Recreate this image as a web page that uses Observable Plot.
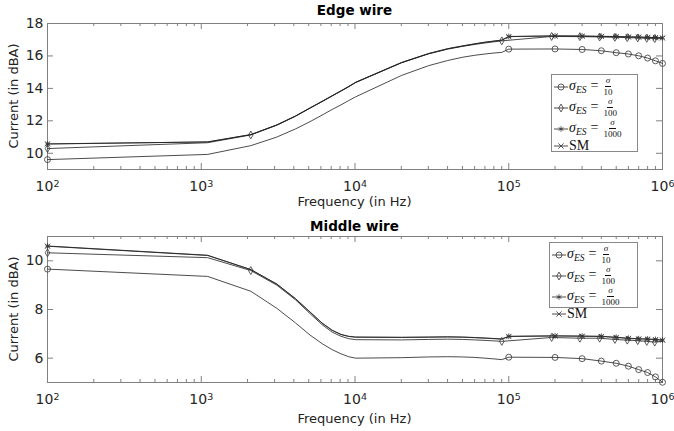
<!DOCTYPE html>
<html><head><meta charset="utf-8">
<script src="https://cdn.jsdelivr.net/npm/d3@7"></script>
<script src="https://cdn.jsdelivr.net/npm/@observablehq/plot@0.6"></script>
<style>
body{margin:0;background:#fff;}
#wrap{position:relative;width:674px;height:431px;overflow:hidden;font-family:"DejaVu Sans",sans-serif;color:#222;}
.panel{position:absolute;left:0;width:674px;}
.title{position:absolute;left:47px;width:615px;text-align:center;font-weight:bold;font-size:13.5px;line-height:16px;color:#000;}
.xlab{position:absolute;left:47px;width:615px;text-align:center;font-size:13px;line-height:15px;color:#222;}
.ylab{position:absolute;width:200px;text-align:center;font-size:13px;line-height:16px;color:#222;transform:rotate(-90deg);transform-origin:50% 50%;}
.legend{position:absolute;border:1px solid #888;background:#fff;font-family:"Liberation Serif","DejaVu Serif",serif;color:#111;box-sizing:border-box;padding:1px 2px;display:flex;flex-direction:column;justify-content:space-around;}
.row{display:flex;align-items:center;white-space:nowrap;font-size:14px;line-height:1;}
.row svg{flex:none;margin-right:1px;}
.lab i{font-style:italic;}
.lab sub{font-size:9.5px;vertical-align:-3px;line-height:1;}
.eq{margin:0 5px 0 4px;}
.frac{display:inline-flex;flex-direction:column;align-items:center;line-height:1;vertical-align:middle;font-size:9px;}
.frac .n{font-style:italic;padding:0 1px 1px;border-bottom:0.8px solid #111;}
.frac .d{padding-top:1px;}
</style>
</head><body>
<div id="wrap"></div>
<script>
// ---------- data ----------
const freqA = [100,1100,2100,3100,4100,5100,6100,7100,8100,9100,10100,20100,30100,40100,50100,60100,70100,80100,90100,100000,200000,300000,400000,500000,600000,700000,800000,900000,1000000];
const freqB = [100,1100,2100,3100,4100,5100,6100,7100,8100,9100,10100,20100,30100,40100,50100,60100,70100,80100,90100,190100,290100,390100,490100,590100,690100,790100,890100,1000000];

// Edge wire (freqA / freqB)
const edge10   = [9.61,9.93,10.47,11.0,11.5,11.95,12.35,12.7,12.98,13.25,13.48,14.8,15.4,15.72,15.92,16.04,16.12,16.18,16.22,16.42,16.43,16.40,16.32,16.2,16.12,16.01,15.87,15.7,15.54];
const edge100  = [10.29,10.65,11.13,11.73,12.28,12.78,13.18,13.53,13.83,14.1,14.36,15.58,16.13,16.42,16.59,16.71,16.8,16.87,16.93,17.2,17.19,17.17,17.15,17.13,17.11,17.09,17.07,17.06];
const edge1000 = [10.57,10.70,11.15,11.75,12.3,12.8,13.2,13.55,13.85,14.12,14.38,15.6,16.15,16.45,16.62,16.75,16.85,16.92,16.98,17.2,17.24,17.23,17.21,17.2,17.18,17.17,17.15,17.14,17.12];
const edgeSM   = [10.58,10.70,11.15,11.74,12.29,12.79,13.19,13.54,13.84,14.11,14.37,15.59,16.14,16.44,16.61,16.74,16.84,16.91,16.97,17.19,17.23,17.22,17.2,17.19,17.17,17.16,17.14,17.13,17.11];

// Middle wire
const mid10   = [9.66,9.36,8.75,8.05,7.45,6.95,6.6,6.35,6.18,6.06,6.0,6.02,6.05,6.06,6.05,6.03,6.0,5.97,5.94,6.04,6.03,5.98,5.88,5.79,5.67,5.53,5.41,5.23,5.01];
const mid100  = [10.33,10.13,9.6,9.0,8.4,7.83,7.38,7.07,6.9,6.8,6.76,6.75,6.77,6.78,6.77,6.75,6.73,6.71,6.69,6.85,6.82,6.82,6.77,6.74,6.72,6.69,6.66,6.70];
const mid1000 = [10.61,10.23,9.64,9.05,8.45,7.9,7.45,7.15,6.98,6.9,6.87,6.86,6.87,6.88,6.87,6.85,6.83,6.81,6.79,6.9,6.92,6.91,6.9,6.86,6.82,6.80,6.79,6.77,6.74];
const midSM   = [10.6,10.22,9.64,9.04,8.44,7.89,7.44,7.14,6.97,6.89,6.86,6.85,6.86,6.87,6.86,6.84,6.82,6.8,6.78,6.89,6.91,6.9,6.89,6.85,6.81,6.79,6.78,6.76,6.74];

// marker positions (frequencies carrying a marker)
const markCircle  = [100,100000,200000,300000,400000,500000,600000,700000,800000,900000,1000000];
const markDiamond = [100,2100,90100,190100,290100,390100,490100,590100,690100,790100,890100];
const markStar    = [100,100000,200000,300000,400000,500000,600000,700000,800000,900000,1000000];
const markSM      = [100,100000,200000,300000,400000,500000,600000,700000,800000,900000,1000000];

const xTicks = [100,1000,10000,100000,1000000];
const edgeYTicks = [10,12,14,16,18];
const midYTicks = [6,8,10];
const titles = ["Edge wire","Middle wire"];
const xLabel = "Frequency (in Hz)";
const yLabel = "Current (in dBA)";
const legendLabels = ["10","100","1000"];

// ---------- drawing ----------
const INK = "#1e1e1e", AX = "#808080";
const minorTicks = [];
for (let k=2;k<6;k++) for (let m=2;m<10;m++) minorTicks.push(m*10**k);

function makePanel(o){
  const W=674, ml=47, mr=12;
  const ph=o.height-o.mt-o.mb, pw=W-ml-mr;
  const series=[
    {key:"s10", f:freqA, v:o.v10, marks:markCircle, symbol:"circle", r:3},
    {key:"s100", f:freqB, v:o.v100, marks:markDiamond, symbol:"diamond", r:2.4},
    {key:"s1000", f:freqA, v:o.v1000, marks:markStar, symbol:"asterisk", r:2.7},
    {key:"sm", f:freqA, v:o.vSM, marks:markSM, symbol:"times", r:2.5}
  ];
  const rows = series.flatMap(s=>s.f.map((f,i)=>({s:s.key,f,v:s.v[i]})));
  const dots = series.map(s=>Plot.dot(rows.filter(d=>d.s===s.key && s.marks.includes(d.f)),
      {x:"f",y:"v",symbol:s.symbol,r:s.r,fill:s.symbol==="circle"||s.symbol==="diamond"?"none":null,stroke:"#333",strokeWidth:0.8}));
  const svg = Plot.plot({
    width:W, height:o.height, marginTop:o.mt, marginBottom:o.mb, marginLeft:ml, marginRight:mr,
    x:{type:"log", domain:[100,1e6]},
    y:{domain:o.ydomain},
    style:{fontFamily:'"DejaVu Sans", sans-serif', fontSize:"14px", color:"#262626", background:"white", overflow:"visible"},
    marks:[
      Plot.frame({stroke:AX, strokeWidth:1}),
      Plot.tickX(minorTicks,{x:d=>d, insetTop:ph-3, stroke:AX}),
      Plot.tickX(minorTicks,{x:d=>d, insetBottom:ph-3, stroke:AX}),
      Plot.tickX(xTicks,{x:d=>d, insetTop:ph-6, stroke:AX}),
      Plot.tickX(xTicks,{x:d=>d, insetBottom:ph-6, stroke:AX}),
      Plot.tickY(o.yticks,{y:d=>d, insetRight:pw-6, stroke:AX}),
      Plot.tickY(o.yticks,{y:d=>d, insetLeft:pw-6, stroke:AX}),
      Plot.axisX({ticks:xTicks, tickFormat:d=>String(Math.round(Math.log10(d))), tickSize:0, tickPadding:12, label:null}),
      Plot.axisY({ticks:o.yticks, tickFormat:d=>String(d), tickSize:0, tickPadding:4, label:null}),
      Plot.line(rows,{x:"f",y:"v",z:"s",stroke:INK,strokeWidth:0.8}),
      ...dots
    ]
  });
  // turn exponent labels into 10 with superscript
  d3.select(svg).selectAll('g[aria-label="x-axis tick label"] text').each(function(){
    const e = this.textContent;
    const t = d3.select(this);
    t.text(null);
    t.append("tspan").text("10");
    t.append("tspan").attr("dy","-0.45em").attr("font-size","9.5px").text(e);
  });
  return svg;
}

const wrap = document.getElementById("wrap");
const panels = [
  {top:0, height:215, mt:23, mb:46, ydomain:[9,18], yticks:edgeYTicks, v10:edge10, v100:edge100, v1000:edge1000, vSM:edgeSM,
   titleY:2, xlabY:194, ylabC:96, leg:{left:551,top:74,width:87,height:78}},
  {top:215, height:216, mt:21, mb:49, ydomain:[5,11], yticks:midYTicks, v10:mid10, v100:mid100, v1000:mid1000, vSM:midSM,
   titleY:218, xlabY:411, ylabC:309, leg:{left:549,top:242,width:89,height:66}}
];

function legendHTML(){
  const syms = [[d3.symbolCircle,28],[d3.symbolDiamond,18],[d3.symbolAsterisk,22],[d3.symbolTimes,20]];
  const labs = legendLabels.map(l=>`<span class="lab"><i>σ</i><sub><i>ES</i></sub><span class="eq">=</span><span class="frac"><span class="n">σ</span><span class="d">${l}</span></span></span>`);
  labs.push(`<span class="lab">SM</span>`);
  return labs.map((lab,i)=>`<div class="row"><svg width="14" height="12"><line x1="0" x2="14" y1="6" y2="6" stroke="${INK}" stroke-width="0.8"/><path transform="translate(7,6)" d="${d3.symbol(syms[i][0],syms[i][1])()}" fill="none" stroke="#333" stroke-width="0.8"/></svg>${lab}</div>`).join("");
}

panels.forEach((p,i)=>{
  const div = document.createElement("div");
  div.className="panel"; div.style.top=p.top+"px";
  div.appendChild(makePanel(p));
  wrap.appendChild(div);
  const t=document.createElement("div"); t.className="title"; t.style.top=p.titleY+"px"; t.textContent=titles[i]; wrap.appendChild(t);
  const xl=document.createElement("div"); xl.className="xlab"; xl.style.top=p.xlabY+"px"; xl.textContent=xLabel; wrap.appendChild(xl);
  const yl=document.createElement("div"); yl.className="ylab"; yl.style.left=(14-100)+"px"; yl.style.top=(p.ylabC-8)+"px"; yl.textContent=yLabel; wrap.appendChild(yl);
  const lg=document.createElement("div"); lg.className="legend";
  Object.assign(lg.style,{left:p.leg.left+"px",top:p.leg.top+"px",width:p.leg.width+"px",height:p.leg.height+"px"});
  lg.innerHTML=legendHTML(); wrap.appendChild(lg);
});
</script>
</body></html>
